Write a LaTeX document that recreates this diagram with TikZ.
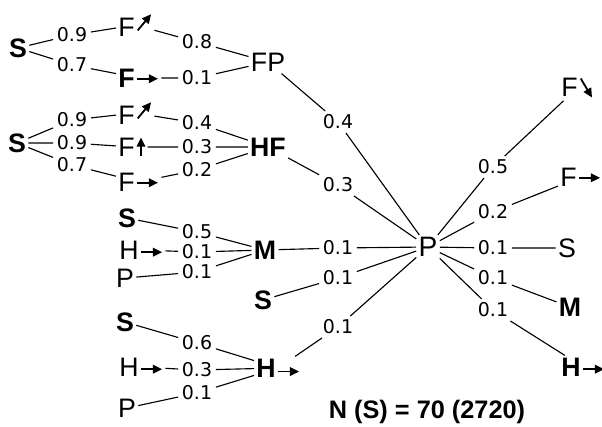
\documentclass[tikz,border=0pt]{standalone}
\usepackage{fontspec}
\setmainfont{Liberation Sans}
\newfontfamily\wtfont{DejaVu Sans}
\usetikzlibrary{arrows.meta}

\tikzset{
  tipsolid/.style={-{Triangle[length=6.5pt,width=6pt]}, line width=1.3pt}
}
% flechitas junto a las letras
\newcommand{\arrE}[1][6pt]{\hspace{1pt}\tikz[baseline=0pt]\draw[tipsolid] (0,#1) -- (15pt,#1);}
\newcommand{\arrNE}{\hspace{1.5pt}\tikz[baseline=0pt]\draw[tipsolid] (0,4.5pt) -- (9.5pt,16pt);}
\newcommand{\arrN}{\hspace{1.5pt}\tikz[baseline=0pt]\draw[tipsolid] (0,0) -- (0,13.5pt);}
\newcommand{\arrSE}{\hspace{1.5pt}\tikz[baseline=0pt]\draw[tipsolid] (0,13pt) -- (8pt,-0.5pt);}

\begin{document}
\begin{tikzpicture}[x=0.025cm, y=-0.025cm,
    letter/.style={font=\fontsize{19}{20}\selectfont, inner sep=1.5pt},
    bletter/.style={letter, font=\fontsize{19}{20}\selectfont\bfseries},
    wt/.style={font=\fontsize{13.5}{15}\wtfont, inner sep=2.5pt},
    edge/.style={line width=0.8pt},
  ]
  \useasboundingbox (0,0) rectangle (602,426);

  % Grupo FP
  \node[bletter] (S1) at (18,48) {S};
  \node[letter, anchor=west]  (F1) at (116,25) {F\arrNE};
  \node[bletter, anchor=west] (F2) at (116,78) {F\arrE};
  \node[letter] (FP) at (268,62) {FP};
  \node[wt] (w01) at (72,35)  {0.9};
  \node[wt] (w02) at (197,42) {0.8};
  \node[wt] (w03) at (72,65)  {0.7};
  \node[wt] (w04) at (197,78) {0.1};
  \draw[edge] (S1) -- (w01) -- (F1) -- (w02) -- (FP);
  \draw[edge] (S1) -- (w03) -- (F2) -- (w04) -- (FP);

  % Grupo HF
  \node[bletter] (S2) at (17,143) {S};
  \node[letter, anchor=west] (F3) at (116,113) {F\arrNE};
  \node[letter, anchor=west] (F4) at (116,147) {F\arrN};
  \node[letter, anchor=west] (F5) at (116,182) {F\arrE};
  \node[bletter] (HF) at (268,147) {HF};
  \node[wt] (w05) at (72,120)  {0.9};
  \node[wt] (w06) at (72,143)  {0.9};
  \node[wt] (w07) at (72,165)  {0.7};
  \node[wt] (w08) at (197,123) {0.4};
  \node[wt] (w09) at (197,147) {0.3};
  \node[wt] (w10) at (197,170) {0.2};
  \draw[edge] (S2) -- (w05) -- (F3) -- (w08) -- (HF);
  \draw[edge] (S2) -- (w06) -- (F4) -- (w09) -- (HF);
  \draw[edge] (S2) -- (w07) -- (F5) -- (w10) -- (HF);

  % Grupo M
  \node[bletter] (S3) at (127,218) {S};
  \node[letter, anchor=west] (H1) at (117,250) {H\arrE[5pt]};
  \node[letter] (P1) at (125,278) {P};
  \node[bletter] (M1) at (265,250) {M};
  \node[wt] (w11) at (197,232) {0.5};
  \node[wt] (w12) at (197,252) {0.1};
  \node[wt] (w13) at (197,272) {0.1};
  \draw[edge] (S3) -- (w11) -- (M1);
  \draw[edge] (H1) -- (w12) -- (M1);
  \draw[edge] (P1) -- (w13) -- (M1);

  \node[bletter] (S4) at (263,300) {S};

  % Grupo H
  \node[bletter] (S5) at (125,322) {S};
  \node[letter, anchor=west] (H2) at (117,367) {H\arrE[5pt]};
  \node[letter] (P2) at (127,408) {P};
  \node[bletter, anchor=west] (H3) at (254,368) {H\arrE[4pt]};
  \node[wt] (w14) at (197,343) {0.6};
  \node[wt] (w15) at (197,370) {0.3};
  \node[wt] (w16) at (197,393) {0.1};
  \draw[edge] (S5) -- (w14) -- (H3);
  \draw[edge] (H2) -- (w15) -- (H3);
  \draw[edge] (P2) -- (w16) -- (H3);

  % Nodo central P
  \node[letter, font=\fontsize{20}{24}\selectfont] (P0) at (428,247) {P};
  \node[wt] (w17) at (338,122) {0.4};
  \node[wt] (w18) at (338,185) {0.3};
  \node[wt] (w19) at (338,248) {0.1};
  \node[wt] (w20) at (338,278) {0.1};
  \node[wt] (w21) at (338,327) {0.1};
  \draw[edge] (FP) -- (w17) -- (P0);
  \draw[edge] (HF) -- (w18) -- (P0);
  \draw[edge] (M1) -- (w19) -- (P0);
  \draw[edge] (S4) -- (w20) -- (P0);
  \draw[edge] (H3) -- (w21) -- (P0);

  % Salidas de P
  \node[letter, anchor=west]  (F6) at (559,88)  {F\arrSE};
  \node[letter, anchor=west]  (F7) at (558,177) {F\arrE};
  \node[letter]               (S6) at (567,248) {S};
  \node[bletter]              (M2) at (570,307) {M};
  \node[bletter, anchor=west] (H4) at (559,367) {H\arrE[5pt]};
  \node[wt] (w22) at (493,167) {0.5};
  \node[wt] (w23) at (493,212) {0.2};
  \node[wt] (w24) at (493,248) {0.1};
  \node[wt] (w25) at (493,278) {0.1};
  \node[wt] (w26) at (493,310) {0.1};
  \draw[edge] (P0) -- (w22) -- (F6);
  \draw[edge] (P0) -- (w23) -- (F7);
  \draw[edge] (P0) -- (w24) -- (S6);
  \draw[edge] (P0) -- (w25) -- (M2);
  \draw[edge] (P0) -- (w26) -- (H4);

  % Tamaño de muestra
  \node[font=\fontsize{18}{20}\selectfont\bfseries] (nS) at (427,412) {N (S) = 70 (2720)};

\end{tikzpicture}
\end{document}
